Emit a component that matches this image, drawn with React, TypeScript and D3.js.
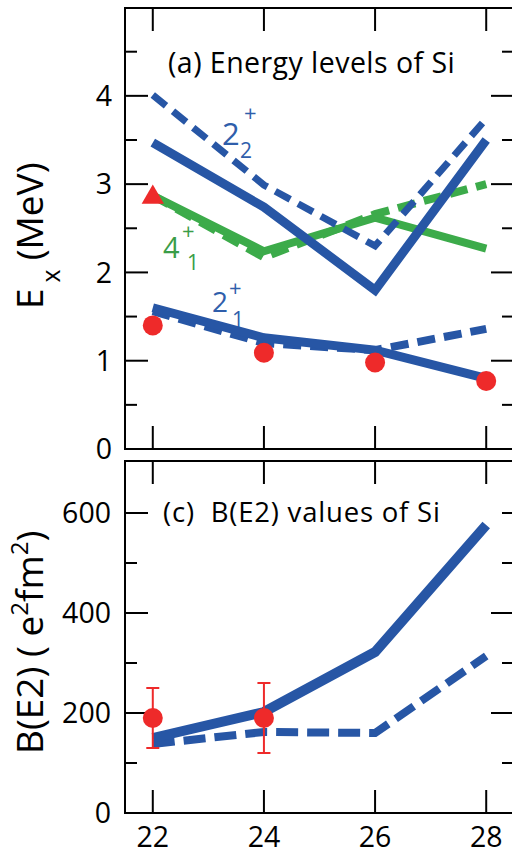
import React from "react";
import * as d3 from "d3";

const nuclei = [22, 24, 26, 28];
const xTicks = [22, 24, 26, 28];

// Panel (a) energy levels (MeV)
const e22Solid = [3.47, 2.74, 1.8, 3.5];
const e22Dashed = [4.01, 2.99, 2.3, 3.74];
const e41Solid = [2.87, 2.24, 2.62, 2.27];
const e41Dashed = [2.87, 2.17, 2.66, 3.0];
const e21Solid = [1.6, 1.26, 1.12, 0.8];
const e21Dashed = [1.56, 1.2, 1.12, 1.36];
const e21Exp = [1.4, 1.09, 0.98, 0.77];
const e41ExpX = [22];
const e41Exp = [2.85];
const eMajorTicks = [0, 1, 2, 3, 4];
const eMinorTicks = [0.5, 1.5, 2.5, 3.5, 4.5];

// Panel (c) B(E2) values (e^2 fm^2)
const bSolid = [150, 202, 322, 576];
const bDashed = [138, 162, 160, 314];
const bExpX = [22, 24];
const bExp = [190, 190];
const bErrLo = [130, 120];
const bErrHi = [250, 260];
const bMajorTicks = [0, 200, 400, 600];
const bMinorTicks = [100, 300, 500];
const bRightMajor = [0, 200, 400];
const bRightMinor = [100, 300, 500, 600];

const BLUE = "#2756a5";
const GREEN = "#3cab4a";
const RED = "#ee2a2a";
const FONT = "'Open Sans', sans-serif";

export default function App() {
  const W = 512;
  const H = 854;
  const x = d3.scaleLinear().domain([21.5, 28.5]).range([125, 514]);
  const yE = d3.scaleLinear().domain([0, 4.995]).range([449, 8]);
  const yB = d3.scaleLinear().domain([0, 704]).range([813, 461]);

  const lineE = (vals: number[]) =>
    d3
      .line<number>()
      .x((_, i) => x(nuclei[i]))
      .y((v) => yE(v))(vals) || "";
  const lineB = (vals: number[]) =>
    d3
      .line<number>()
      .x((_, i) => x(nuclei[i]))
      .y((v) => yB(v))(vals) || "";

  const tri = d3.symbol().type(d3.symbolTriangle).size(215)() || "";

  const L = x.range()[0];
  const R = x.range()[1];
  const major = 23;
  const minor = 12;

  const frame = (top: number, bottom: number) => (
    <path
      d={`M${R},${top}H${L}V${bottom}H${R}`}
      fill="none"
      stroke="#000"
      strokeWidth={2}
    />
  );

  return (
    <svg
      width={W}
      height={H}
      style={{ position: "absolute", left: 0, top: 0, background: "#fff" }}
      fontFamily={FONT}
    >
      <rect width={W} height={H} fill="#fff" />
      {/* ===== Panel (a) ===== */}
      {frame(8, 449)}
      {eMajorTicks.map((t) => (
        <g key={"em" + t}>
          <line x1={L} x2={L + major} y1={yE(t)} y2={yE(t)} stroke="#000" strokeWidth={2} />
          <line x1={R - major} x2={R} y1={yE(t)} y2={yE(t)} stroke="#000" strokeWidth={2} />
          <text x={112} y={yE(t)} dy="0.36em" textAnchor="end" fontSize={28.5}>
            {t}
          </text>
        </g>
      ))}
      {eMinorTicks.map((t) => (
        <g key={"en" + t}>
          <line x1={L} x2={L + minor} y1={yE(t)} y2={yE(t)} stroke="#000" strokeWidth={2} />
          <line x1={R - minor} x2={R} y1={yE(t)} y2={yE(t)} stroke="#000" strokeWidth={2} />
        </g>
      ))}
      {xTicks.map((t) => (
        <g key={"ex" + t}>
          <line x1={x(t)} x2={x(t)} y1={8} y2={8 + major} stroke="#000" strokeWidth={2} />
          <line x1={x(t)} x2={x(t)} y1={449 - major} y2={449} stroke="#000" strokeWidth={2} />
        </g>
      ))}
      <text x={168} y={73} fontSize={28.5} letterSpacing={0.45}>
        (a) Energy levels of Si
      </text>

      {/* labels */}
      <g fill="#2f5eab">
        <text x={222} y={145} fontSize={31}>2</text>
        <text x={244} y={121} fontSize={22}>+</text>
        <text x={240} y={158} fontSize={21}>2</text>
        <text x={212} y={312} fontSize={28}>2</text>
        <text x={229} y={296} fontSize={22}>+</text>
        <text x={232} y={327} fontSize={21}>1</text>
      </g>
      <g fill="#3a9d48">
        <text x={163} y={258} fontSize={29}>4</text>
        <text x={182} y={239} fontSize={22}>+</text>
        <text x={187} y={270} fontSize={21}>1</text>
      </g>

      {/* curves */}
      <path d={lineE(e41Dashed)} fill="none" stroke={GREEN} strokeWidth={8} strokeDasharray="18 9" />
      <path d={lineE(e41Solid)} fill="none" stroke={GREEN} strokeWidth={8} />
      <path d={lineE(e22Dashed)} fill="none" stroke={BLUE} strokeWidth={7} strokeDasharray="17 9" />
      <path d={lineE(e22Solid)} fill="none" stroke={BLUE} strokeWidth={9} />
      <path d={lineE(e21Dashed)} fill="none" stroke={BLUE} strokeWidth={8} strokeDasharray="18 9" />
      <path d={lineE(e21Solid)} fill="none" stroke={BLUE} strokeWidth={9} />

      {e21Exp.map((v, i) => (
        <circle key={"c" + i} cx={x(nuclei[i])} cy={yE(v)} r={10} fill={RED} />
      ))}
      {e41Exp.map((v, i) => (
        <path key={"t" + i} d={tri} transform={`translate(${x(e41ExpX[i])},${yE(v)})`} fill={RED} />
      ))}

      {/* y title (a) */}
      <text transform="translate(43,309) rotate(-90)" fontSize={37}>
        <tspan>E</tspan>
        <tspan fontSize={25} dy={17} dx={6}>x</tspan>
        <tspan dy={-17} dx={9}>(MeV)</tspan>
      </text>

      {/* ===== Panel (c) ===== */}
      {frame(461, 813)}
      {bMajorTicks.map((t) => (
        <g key={"bm" + t}>
          <line x1={L} x2={L + major} y1={yB(t)} y2={yB(t)} stroke="#000" strokeWidth={2} />
          <text x={111} y={yB(t)} dy="0.36em" textAnchor="end" fontSize={28.5}>
            {t}
          </text>
        </g>
      ))}
      {bMinorTicks.map((t) => (
        <line key={"bn" + t} x1={L} x2={L + minor} y1={yB(t)} y2={yB(t)} stroke="#000" strokeWidth={2} />
      ))}
      {bRightMajor.map((t) => (
        <line key={"brm" + t} x1={R - major} x2={R} y1={yB(t)} y2={yB(t)} stroke="#000" strokeWidth={2} />
      ))}
      {bRightMinor.map((t) => (
        <line key={"brn" + t} x1={R - minor} x2={R} y1={yB(t)} y2={yB(t)} stroke="#000" strokeWidth={2} />
      ))}
      {xTicks.map((t) => (
        <g key={"bx" + t}>
          <line x1={x(t)} x2={x(t)} y1={461} y2={461 + major} stroke="#000" strokeWidth={2} />
          <line x1={x(t)} x2={x(t)} y1={813 - major} y2={813} stroke="#000" strokeWidth={2} />
          <text x={x(t)} y={847} textAnchor="middle" fontSize={28.5}>
            {t}
          </text>
        </g>
      ))}
      <text x={163} y={522} fontSize={27.5} letterSpacing={0.8} style={{ whiteSpace: "pre" }}>
        {"(c)  B(E2) values of Si"}
      </text>

      <path d={lineB(bDashed)} fill="none" stroke={BLUE} strokeWidth={8} strokeDasharray="22 9" />
      <path d={lineB(bSolid)} fill="none" stroke={BLUE} strokeWidth={10} />

      {bExp.map((v, i) => {
        const cx = x(bExpX[i]);
        return (
          <g key={"be" + i} stroke={RED} strokeWidth={2}>
            <line x1={cx} x2={cx} y1={yB(bErrLo[i])} y2={yB(bErrHi[i])} />
            <line x1={cx - 6.5} x2={cx + 6.5} y1={yB(bErrLo[i])} y2={yB(bErrLo[i])} />
            <line x1={cx - 6.5} x2={cx + 6.5} y1={yB(bErrHi[i])} y2={yB(bErrHi[i])} />
            <circle cx={cx} cy={yB(v)} r={10} fill={RED} stroke="none" />
          </g>
        );
      })}

      {/* y title (c) */}
      <text transform="translate(43,754) rotate(-90)" fontSize={37} style={{ whiteSpace: "pre" }}>
        <tspan>{"B(E2) ( e"}</tspan>
        <tspan fontSize={24} dy={-15}>2</tspan>
        <tspan dy={15}>fm</tspan>
        <tspan fontSize={24} dy={-15}>2</tspan>
        <tspan dy={15}>)</tspan>
      </text>
    </svg>
  );
}
